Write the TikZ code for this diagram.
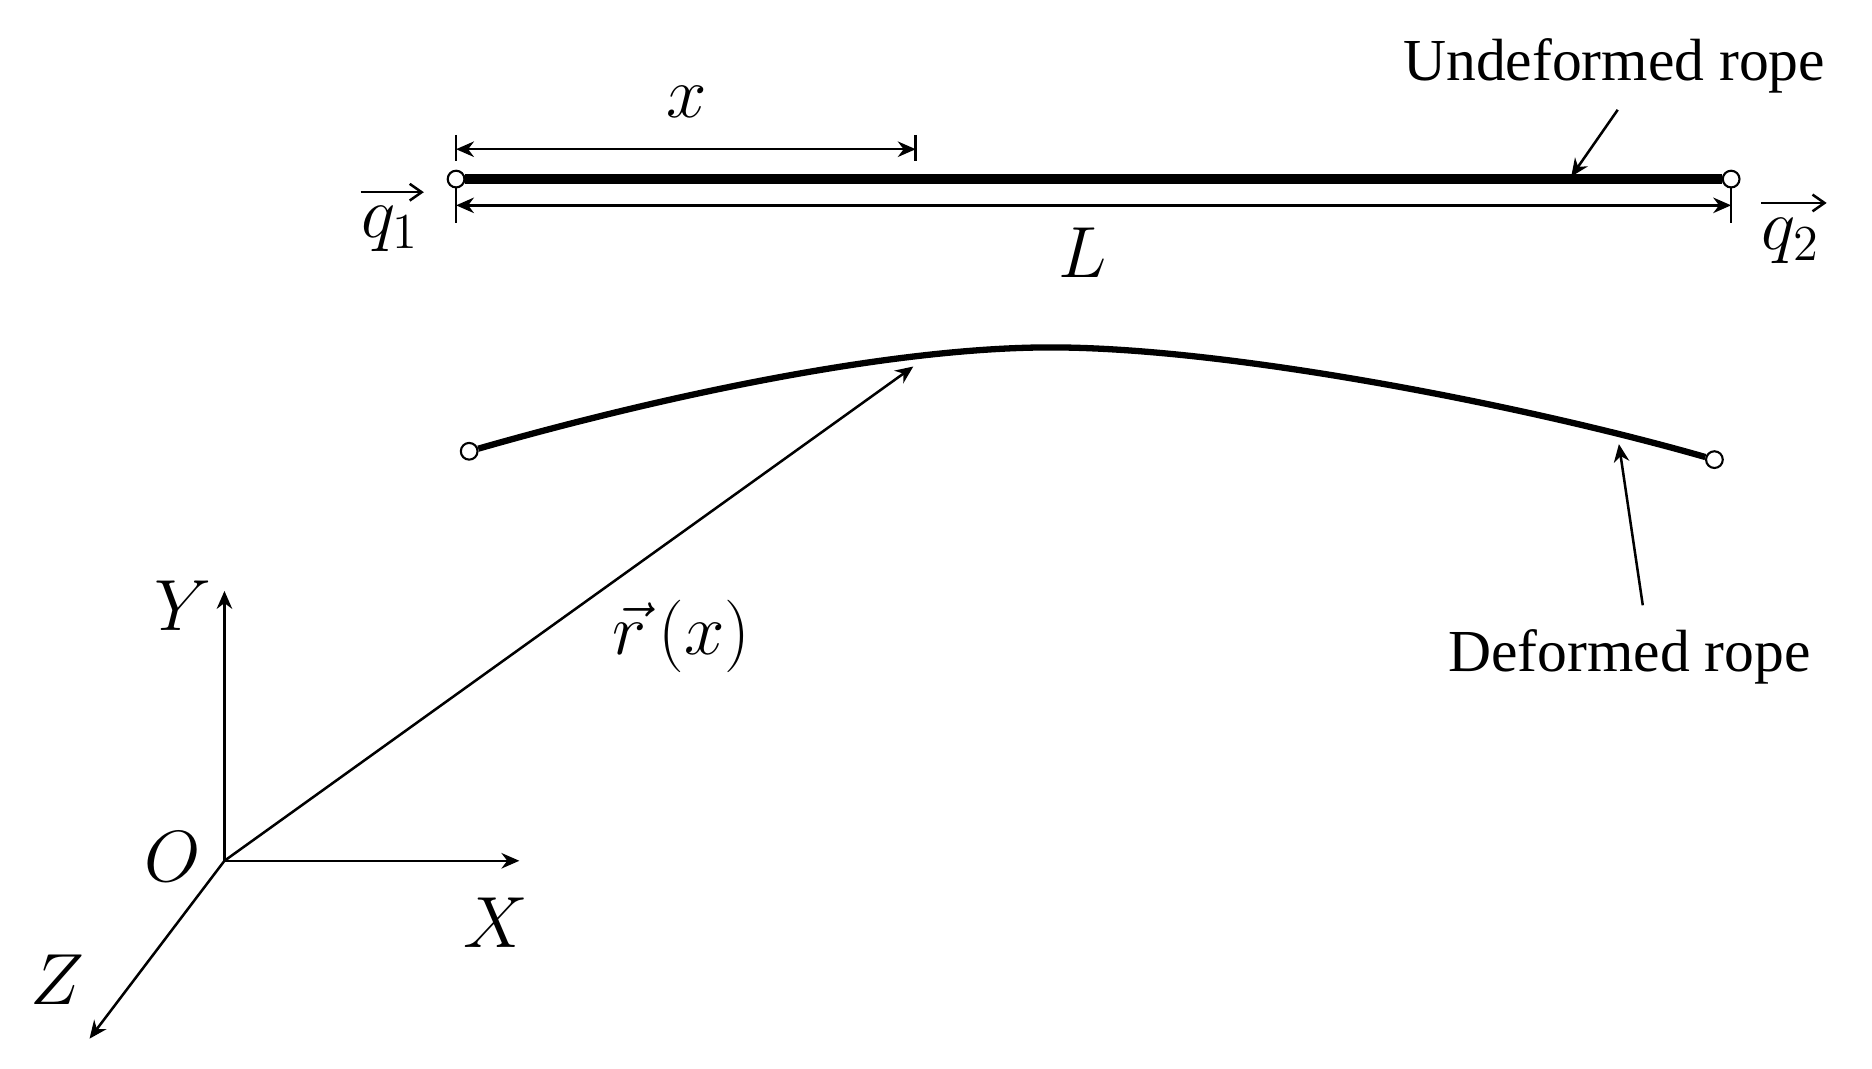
\documentclass[tikz,border=0pt]{standalone}
\usepackage{amsmath,amssymb}
\usepackage{fontspec}
\setmainfont{Liberation Serif}
\usetikzlibrary{arrows.meta}
\tikzset{
  hinge/.style={circle, draw, fill=white, line width=0.5pt, inner sep=0pt, minimum size=0.14cm},
  thin line/.style={line width=0.6pt},
  rope/.style={line width=2.2pt},
  tip/.style={-{Stealth[length=1.5mm,width=1.3mm]}},
  twotip/.style={{Stealth[length=1.5mm,width=1.3mm]}-{Stealth[length=1.5mm,width=1.3mm]}},
  caption/.style={font=\fontsize{14.2}{16}\selectfont, inner sep=0pt},
  sym/.style={font=\fontsize{18}{22}\selectfont, inner sep=0pt}
}
\begin{document}
\begin{tikzpicture}
\useasboundingbox (0,0) rectangle (15.68,8.95);
% undeformed rope
\node [hinge] (q1) at (3.82,7.45) {};
\node [hinge] (q2) at (14.50,7.45) {};
\draw [rope] (q1) -- (q2);
\coordinate (a1) at (3.82,7.70);
\coordinate (a2) at (7.67,7.70);
\coordinate (b1) at (3.82,7.23);
\coordinate (b2) at (14.50,7.23);
\draw [thin line] (3.82,7.82) -- (3.82,7.60);
\draw [thin line] (7.67,7.82) -- (7.67,7.60);
\draw [thin line] (q1) -- (3.82,7.08);
\draw [thin line] (q2) -- (14.50,7.08);
\draw [thin line, twotip] (a1) -- (a2);
\draw [thin line, twotip] (b1) -- (b2);
\node [sym] (x) at (5.75,8.10) {$x$};
\node [sym] (L) at (9.07,6.83) {$L$};
\node [sym] (q1t) at (3.27,7.03) {$q_1$};
\node [sym] (q2t) at (15.00,6.93) {$q_2$};
\coordinate (p1) at (3.02,7.34);
\coordinate (p2) at (3.55,7.34);
\coordinate (p3) at (14.75,7.25);
\coordinate (p4) at (15.30,7.25);
\draw [thin line, -{Straight Barb[length=1mm,width=1.4mm]}] (p1) -- (p2);
\draw [thin line, -{Straight Barb[length=1mm,width=1.4mm]}] (p3) -- (p4);
\node [caption] (ut) at (13.52,8.40) {Undeformed rope};
\coordinate (u1) at (13.55,8.03);
\coordinate (u2) at (13.16,7.47);
\draw [thin line, tip] (u1) -- (u2);
% deformed rope
\node [hinge] (d1) at (3.93,5.17) {};
\node [hinge] (d2) at (14.36,5.10) {};
\coordinate (top) at (8.80,6.04);
\draw [line width=1.5pt] (d1) to [out=16,in=180,looseness=0.75] (top) to [out=0,in=164,looseness=0.7] (d2);
\node [caption] (dt) at (13.65,3.45) {Deformed rope};
\coordinate (v1) at (13.76,3.88);
\coordinate (v2) at (13.56,5.23);
\draw [thin line, tip] (v1) -- (v2);
% axes
\coordinate (O) at (1.88,1.74);
\coordinate (Xe) at (4.35,1.74);
\coordinate (Ye) at (1.88,4.00);
\coordinate (Ze) at (0.75,0.25);
\coordinate (Re) at (7.65,5.88);
\draw [thin line, tip] (O) -- (Xe);
\draw [thin line, tip] (O) -- (Ye);
\draw [thin line, tip] (O) -- (Ze);
\draw [thin line, tip] (O) -- (Re);
\node [sym] (Ot) at (1.45,1.77) {$O$};
\node [sym] (Xt) at (4.15,1.22) {$X$};
\node [sym] (Yt) at (1.53,3.88) {$Y$};
\node [sym] (Zt) at (0.48,0.74) {$Z$};
\node [font=\fontsize{16.5}{20}\selectfont, inner sep=0pt] (rt) at (5.71,3.62) {$\vec{r}\,(x)$};
\end{tikzpicture}
\end{document}
